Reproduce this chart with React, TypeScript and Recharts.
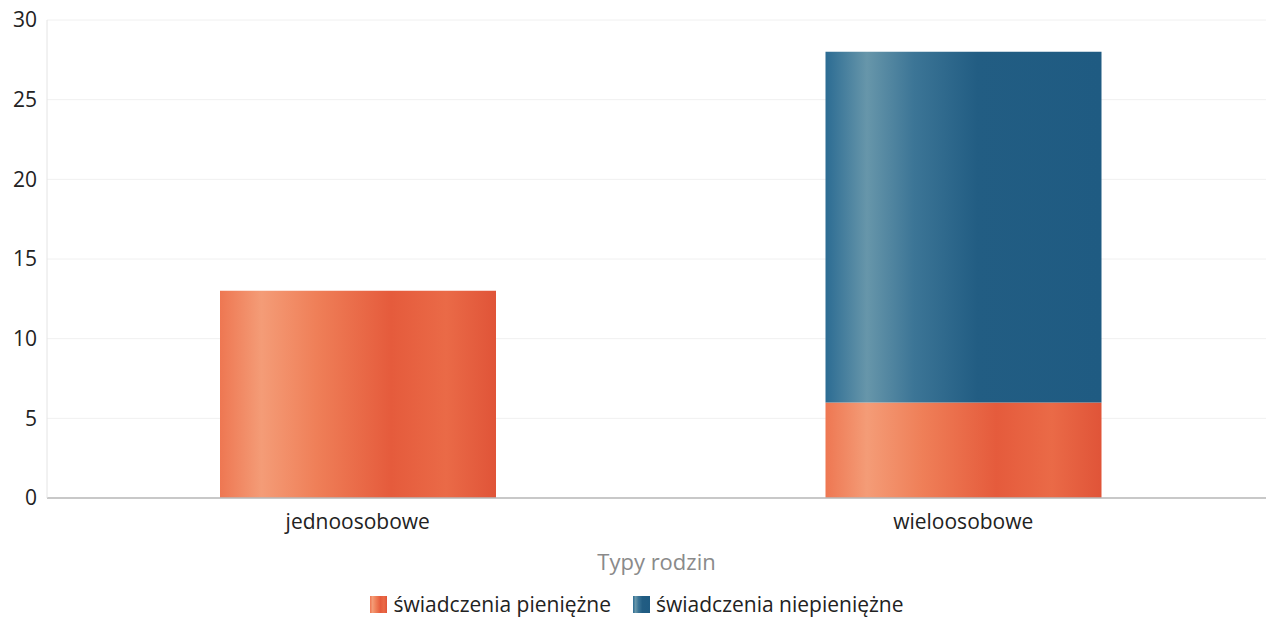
import { Bar, BarChart, CartesianGrid, Legend, XAxis, YAxis } from "recharts";

const categories = ["jednoosobowe", "wieloosobowe"];
const pieniezne = [13, 6];
const niepieniezne = [0, 22];
const yTicks = [0, 5, 10, 15, 20, 25, 30];

const data = categories.map((name, i) => ({
  name,
  pieniezne: pieniezne[i],
  niepieniezne: niepieniezne[i],
}));

const FONT = "'Open Sans', 'Noto Sans', sans-serif";

function LegendContent() {
  const items = [
    { label: "świadczenia pieniężne", fill: "url(#gradOrange)" },
    { label: "świadczenia niepieniężne", fill: "url(#gradBlue)" },
  ];
  return (
    <div
      style={{
        display: "flex",
        justifyContent: "center",
        gap: 22,
        fontFamily: FONT,
        fontSize: 21,
        color: "#222",
        paddingLeft: 8,
      }}
    >
      {items.map((item) => (
        <div key={item.label} style={{ display: "flex", alignItems: "center" }}>
          <svg width={17} height={17} style={{ marginRight: 6 }}>
            <rect width={17} height={17} fill={item.fill} />
          </svg>
          <span>{item.label}</span>
        </div>
      ))}
    </div>
  );
}

export default function App() {
  return (
    <div style={{ position: "absolute", left: 0, top: 0, background: "#fff" }}>
      <svg width={0} height={0} style={{ position: "absolute" }}>
        <defs>
          <linearGradient id="gradOrange" x1="0" y1="0" x2="1" y2="0">
            <stop offset="0" stopColor="#ee7752" />
            <stop offset="0.15" stopColor="#f49c77" />
            <stop offset="0.35" stopColor="#ef7f58" />
            <stop offset="0.62" stopColor="#e55b3c" />
            <stop offset="0.82" stopColor="#ea6a47" />
            <stop offset="1" stopColor="#e05438" />
          </linearGradient>
          <linearGradient id="gradBlue" x1="0" y1="0" x2="1" y2="0">
            <stop offset="0" stopColor="#2c6c93" />
            <stop offset="0.15" stopColor="#6796aa" />
            <stop offset="0.32" stopColor="#3c7596" />
            <stop offset="0.55" stopColor="#225d83" />
            <stop offset="1" stopColor="#1f5b82" />
          </linearGradient>
        </defs>
      </svg>
      <BarChart
        width={1266}
        height={625}
        data={data}
        margin={{ top: 20, right: 0, bottom: 7, left: 0 }}
        barSize={276}
      >
        <CartesianGrid vertical={false} stroke="#f0f0f0" />
        <XAxis
          dataKey="name"
          padding={{ left: 8, right: 0 }}
          axisLine={{ stroke: "#b8b8b8", strokeWidth: 1.5 }}
          tickLine={false}
          tick={{ fill: "#222", fontSize: 21, fontFamily: FONT }}
          tickMargin={10}
          height={92}
          label={{
            value: "Typy rodzin",
            position: "insideBottom",
            offset: 20,
            fill: "#8a8a8a",
            fontSize: 22,
            fontFamily: FONT,
          }}
        />
        <YAxis
          domain={[0, 30]}
          ticks={yTicks}
          width={47}
          axisLine={{ stroke: "#e4e4e4" }}
          tickLine={false}
          tickSize={0}
          tickMargin={10}
          tick={{ fill: "#222", fontSize: 21, fontFamily: FONT }}
        />
        <Legend verticalAlign="bottom" content={<LegendContent />} />
        <Bar
          dataKey="pieniezne"
          name="świadczenia pieniężne"
          stackId="a"
          fill="url(#gradOrange)"
          isAnimationActive={false}
        />
        <Bar
          dataKey="niepieniezne"
          name="świadczenia niepieniężne"
          stackId="a"
          fill="url(#gradBlue)"
          isAnimationActive={false}
        />
      </BarChart>
    </div>
  );
}
